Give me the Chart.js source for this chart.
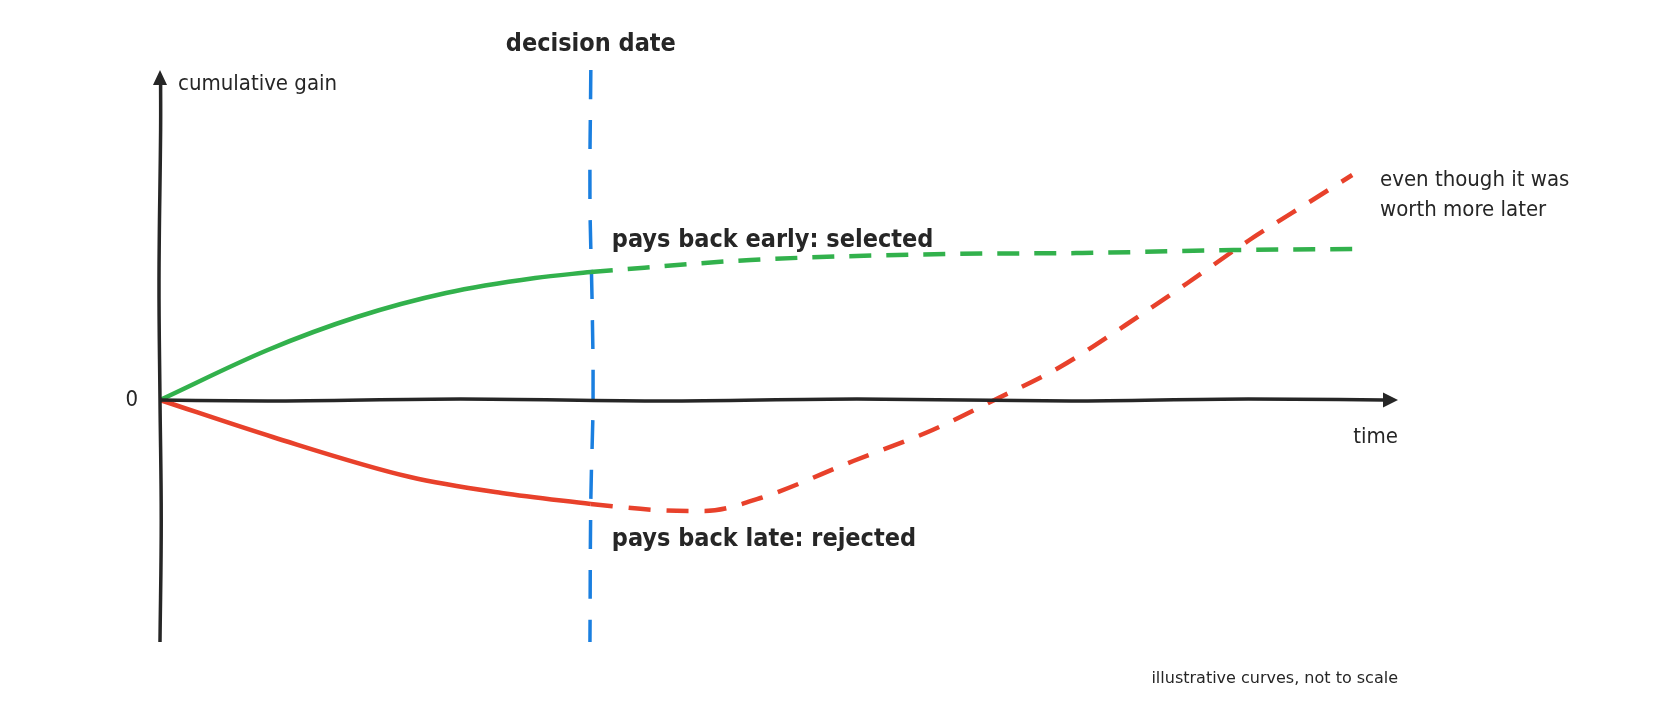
<!DOCTYPE html>
<html>
<head>
<meta charset="utf-8">
<script src="https://cdn.jsdelivr.net/npm/chart.js@4.4.1/dist/chart.umd.min.js"></script>
<style>
  html, body { margin: 0; padding: 0; background: #fff; }
  #wrap { width: 1680px; height: 720px; }
</style>
</head>
<body>
<div id="wrap"><canvas id="chart"></canvas></div>
<script>
// decision date on the time axis
const decisionX = 3.48;

// early payer: solid up to the decision, dashed after
const greenSolidX = [0, 0.87, 1.59, 2.31, 3.03, 3.48];
const greenSolidY = [0, 0.50, 0.83, 1.07, 1.22, 1.28];
const greenDashX = [3.48, 4.77, 6.38, 7.45, 8.67, 9.63];
const greenDashY = [1.28, 1.40, 1.46, 1.47, 1.50, 1.51];

// late payer: solid up to the decision, dashed after
const redSolidX = [0, 0.91, 2.02, 2.76, 3.48];
const redSolidY = [0, -0.37, -0.77, -0.93, -1.04];
const redDashX = [3.48, 4.0, 4.4, 4.85, 5.6, 6.24, 6.74, 7.27, 7.80, 8.30, 8.80, 9.31, 9.63];
const redDashY = [-1.04, -1.10, -1.11, -0.98, -0.61, -0.30, 0, 0.33, 0.75, 1.17, 1.60, 2.0, 2.25];

// hand drawn axes and the decision line (slight wobble)
const xAxisX = [0, 0.87, 2.43, 4.07, 5.63, 7.36, 8.79, 9.88];
const xAxisY = [0, -0.01, 0.01, -0.01, 0.01, -0.01, 0.01, 0];
const yAxisX = [0, 0.01, 0, -0.008, 0.005, 0.005];
const yAxisY = [-2.42, -1.2, 0, 1.2, 2.7, 3.17];
const blueX = [3.48, 3.473, 3.49, 3.498, 3.48, 3.473];
const blueY = [3.3, 2.0, 1.0, 0, -1.0, -2.42];

const ink = '#262626';
const green = '#32b14c';
const red = '#e8412b';
const blue = '#1a7fe0';

function pts(xs, ys) {
    return xs.map((x, i) => ({ x: x, y: ys[i] }));
}

function line(xs, ys, color, width, dash, vertical) {
    const ds = {
        data: pts(xs, ys),
        borderColor: color,
        borderWidth: width,
        borderDash: dash || [],
        borderCapStyle: 'butt',
        pointRadius: 0,
        fill: false,
        clip: false
    };
    if (vertical) {
        ds.tension = 0.4;
    } else {
        ds.cubicInterpolationMode = 'monotone';
    }
    return ds;
}

// arrows and text
const sketchPlugin = {
    id: 'sketch',
    afterDatasetsDraw(chart) {
        const c = chart.ctx;
        const xs = chart.scales.x, ys = chart.scales.y;
        c.save();
        c.fillStyle = ink;

        // arrow on time axis
        let ax = xs.getPixelForValue(10), ay = ys.getPixelForValue(0);
        c.beginPath();
        c.moveTo(ax, ay);
        c.lineTo(ax - 15, ay - 7.5);
        c.lineTo(ax - 15, ay + 7.5);
        c.closePath();
        c.fill();

        // arrow on gain axis
        ax = xs.getPixelForValue(0); ay = ys.getPixelForValue(3.3);
        c.beginPath();
        c.moveTo(ax, ay);
        c.lineTo(ax - 7, ay + 15);
        c.lineTo(ax + 7, ay + 15);
        c.closePath();
        c.fill();

        const cond = '"DejaVu Sans Condensed", "DejaVu Sans", sans-serif';
        const dx = xs.getPixelForValue(decisionX);
        const y0 = ys.getPixelForValue(0);
        c.textBaseline = 'middle';

        c.font = 'bold 25px ' + cond;
        c.textAlign = 'center';
        c.fillText('decision date', dx, 44);
        c.textAlign = 'left';
        c.fillText('pays back early: selected', dx + 21, 240);
        c.fillText('pays back late: rejected', dx + 21, 539);

        c.font = '22px ' + cond;
        c.fillText('cumulative gain', 178, 84);
        c.fillText('even though it was', 1380, 180);
        c.fillText('worth more later', 1380, 210);
        c.textAlign = 'right';
        c.fillText('0', 138, y0);
        c.fillText('time', xs.getPixelForValue(10), 437);

        c.font = '16px "DejaVu Sans", sans-serif';
        c.fillText('illustrative curves, not to scale', xs.getPixelForValue(10), 679);
        c.restore();
    }
};

new Chart(document.getElementById('chart'), {
    type: 'line',
    data: {
        datasets: [
            line(xAxisX, xAxisY, ink, 3.5),
            line(yAxisX, yAxisY, ink, 3.5, null, true),
            line(greenSolidX, greenSolidY, green, 4.5),
            line(greenDashX, greenDashY, green, 4.5, [22, 15]),
            line(redSolidX, redSolidY, red, 4.5),
            line(redDashX, redDashY, red, 4.5, [22, 16]),
            line(blueX, blueY, blue, 3.5, [29, 21], true)
        ]
    },
    options: {
        responsive: true,
        maintainAspectRatio: false,
        animation: false,
        layout: { padding: { left: 160, right: 282, top: 70, bottom: 80 } },
        plugins: { legend: { display: false }, tooltip: { enabled: false } },
        scales: {
            x: { type: 'linear', min: 0, max: 10, display: false },
            y: { type: 'linear', min: -2.4, max: 3.3, display: false }
        }
    },
    plugins: [sketchPlugin]
});
</script>
</body>
</html>
